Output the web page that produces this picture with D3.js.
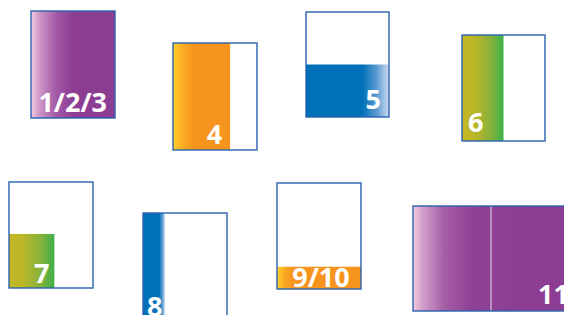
<!DOCTYPE html>
<html>
<head>
<meta charset="utf-8">
<script src="https://cdn.jsdelivr.net/npm/d3@7.9.0/dist/d3.min.js"></script>
<style>
  html, body { margin: 0; padding: 0; background: #fff; }
  svg { display: block; }
  text { font-family: "Open Sans", sans-serif; font-weight: 700; fill: #fff; }
</style>
</head>
<body>
<svg width="564" height="315"></svg>
<script>
// data
const labels = ['1/2/3', '4', '5', '6', '7', '8', '9/10', '11'];
const fillWidth = [1, 0.68, 1, 0.5, 0.54, 0.27, 1, 1];   // share of box width filled (from left)
const fillHeight = [1, 1, 0.5, 1, 0.51, 1, 0.21, 1];     // share of box height filled (from bottom)
const gradients = ['purple', 'orange', 'blueFadeR', 'olive', 'olive', 'blueFadeR2', 'orangeShort', 'purpleWide'];

// layout of the boxes (x, y, w, h) and label placement
const boxes = [
  [31, 11, 84, 107], [173, 43, 84, 107], [306, 12, 83, 105], [462, 35, 83, 106],
  [9, 182, 84, 106], [143, 213, 84, 110], [277, 183, 84, 106], [413, 206, 156, 105]
];
const labelPos = [
  { anchor: 'end', dx: -8, base: 6 }, { anchor: 'end', dx: -8, base: 6 },
  { anchor: 'end', dx: -8, base: 8 }, { anchor: 'start', dx: 6, base: 9 },
  { anchor: 'end', dx: -5, base: 5 }, { anchor: 'start', dx: 4, base: 7 },
  { anchor: 'middle', dx: 2, base: 2 }, { anchor: 'end', dx: 0, base: 7 }
];

const stops = {
  purple: [[0, '#f2cbe2'], [0.1, '#cf97c6'], [0.3, '#a35aa5'], [0.5, '#8d3e94'], [1, '#8b3c93']],
  purpleWide: [[0, '#f2cbe2'], [0.06, '#d39fca'], [0.2, '#a55ea7'], [0.38, '#8f4195'], [1, '#8b3c93']],
  orange: [[0, '#ffd12c'], [0.15, '#fbb024'], [0.38, '#f7941d'], [1, '#f7941d']],
  orangeShort: [[0, '#ffd12c'], [0.1, '#f9a620'], [0.2, '#f7941d'], [1, '#f7941d']],
  blueFadeR: [[0, '#0070b9'], [0.68, '#0071b9'], [0.85, '#5a9ad0'], [1, '#cddcf0']],
  blueFadeR2: [[0, '#0070b9'], [0.72, '#0070b9'], [0.88, '#6fa6d6'], [1, '#ffffff']],
  olive: [[0, '#c4b824'], [0.3, '#bcb628'], [0.7, '#86b23b'], [1, '#3db14a']]
};

const svg = d3.select('svg');
const defs = svg.append('defs');
Object.entries(stops).forEach(([id, s]) => {
  const g = defs.append('linearGradient').attr('id', id)
    .attr('x1', 0).attr('x2', 1).attr('y1', 0).attr('y2', 0);
  s.forEach(([o, c]) => g.append('stop').attr('offset', o).attr('stop-color', c));
});

labels.forEach((lab, i) => {
  const [bx, by, bw, bh] = boxes[i];
  const x = d3.scaleLinear().domain([0, 1]).range([bx, bx + bw]);
  const y = d3.scaleLinear().domain([0, 1]).range([by + bh, by]);
  const g = svg.append('g');

  g.append('rect')
    .attr('x', x(0)).attr('y', y(fillHeight[i]))
    .attr('width', x(fillWidth[i]) - x(0))
    .attr('height', y(0) - y(fillHeight[i]))
    .attr('fill', `url(#${gradients[i]})`);

  if (lab === '11') {
    g.append('line')
      .attr('x1', x(0.5)).attr('x2', x(0.5))
      .attr('y1', y(1)).attr('y2', y(0))
      .attr('stroke', '#d9c6e0').attr('stroke-width', 1.2);
  }

  g.append('rect')
    .attr('x', bx).attr('y', by).attr('width', bw).attr('height', bh)
    .attr('fill', 'none').attr('stroke', '#2a62ae').attr('stroke-width', 1.4);

  const lp = labelPos[i];
  const ax = lp.anchor === 'end' ? x(fillWidth[i]) : lp.anchor === 'middle' ? x(0.5) : x(0);
  g.append('text')
    .attr('x', ax + lp.dx).attr('y', y(0) - lp.base)
    .attr('text-anchor', lp.anchor)
    .attr('font-size', 27)
    .text(lab);
});
</script>
</body>
</html>
